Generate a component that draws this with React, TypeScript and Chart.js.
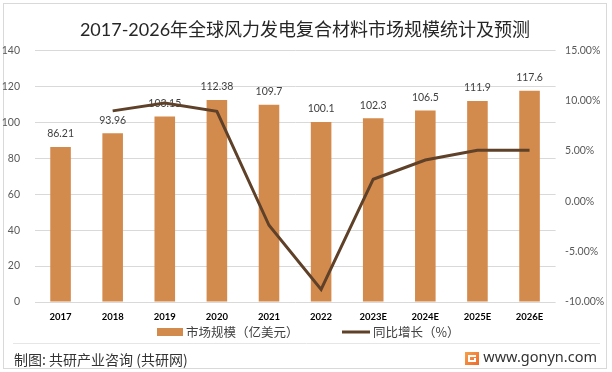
import React, { useEffect, useRef } from 'react';
import { Chart, registerables } from 'chart.js';

Chart.register(...registerables);

const categories = ['2017', '2018', '2019', '2020', '2021', '2022', '2023E', '2024E', '2025E', '2026E'];
const marketSize = [86.21, 93.96, 103.15, 112.38, 109.7, 100.1, 102.3, 106.5, 111.9, 117.6];
const growthPct = [null, 8.99, 9.78, 8.95, -2.38, -8.75, 2.2, 4.11, 5.07, 5.09];
const leftTicks = { min: 0, max: 140, step: 20 };
const rightTicks = { min: -10, max: 15, step: 5 };

const TITLE = '2017-2026年全球风力发电复合材料市场规模统计及预测';
const BAR_LABEL = '市场规模（亿美元）';
const LINE_LABEL = '同比增长（%）';
const FOOT_LEFT = '制图: 共研产业咨询 (共研网)';
const FOOT_RIGHT = 'www.gonyn.com';

const BAR = '#D38B4D';
const LINE = '#5E4128';
const FONT = "Lato, 'Noto Sans CJK SC', sans-serif";
const CJK = "'Noto Sans CJK SC', sans-serif";

const decor = {
  id: 'decor',
  beforeDraw(chart: any) {
    const { ctx, width, height } = chart;
    ctx.save();
    ctx.fillStyle = '#ffffff';
    ctx.fillRect(0, 0, width, height);
    ctx.strokeStyle = '#d9d9d9';
    ctx.lineWidth = 1;
    ctx.strokeRect(3.5, 3.5, 603, 365);
    ctx.restore();
  },
  afterDatasetDraw(chart: any, args: any) {
    if (args.index !== 1) return;
    const { ctx } = chart;
    const meta = args.meta;
    ctx.save();
    ctx.font = `10.5px ${FONT}`;
    ctx.fillStyle = '#404040';
    ctx.textAlign = 'center';
    ctx.textBaseline = 'middle';
    meta.data.forEach((el: any, i: number) => {
      ctx.fillText(String(marketSize[i]), el.x, el.y - 13);
    });
    ctx.restore();
  },
  afterDraw(chart: any) {
    const { ctx } = chart;
    ctx.save();
    // title
    ctx.font = `18px ${FONT}`;
    ctx.fillStyle = '#262626';
    ctx.textAlign = 'center';
    ctx.textBaseline = 'middle';
    ctx.fillText(TITLE, 305, 30);
    // legend
    ctx.fillStyle = BAR;
    ctx.fillRect(157, 328, 26, 8);
    ctx.font = `12.5px ${CJK}`;
    ctx.fillStyle = '#404040';
    ctx.textAlign = 'left';
    ctx.fillText(BAR_LABEL, 186, 332);
    ctx.strokeStyle = LINE;
    ctx.lineWidth = 3;
    ctx.beginPath();
    ctx.moveTo(342, 332);
    ctx.lineTo(370, 332);
    ctx.stroke();
    ctx.fillText(LINE_LABEL, 373, 332);
    // footer separator
    ctx.strokeStyle = '#e6e6e6';
    ctx.lineWidth = 1;
    ctx.beginPath();
    ctx.moveTo(13, 343.5);
    ctx.lineTo(600, 343.5);
    ctx.stroke();
    ctx.font = `14px ${CJK}`;
    ctx.fillStyle = '#333333';
    ctx.fillText(FOOT_LEFT, 14, 360);
    // icon
    const g = ctx.createLinearGradient(465, 352, 479, 365);
    g.addColorStop(0, '#F7A04B');
    g.addColorStop(1, '#EE6A2C');
    ctx.fillStyle = g;
    ctx.fillRect(465, 352, 14, 13);
    ctx.fillStyle = '#ffffff';
    ctx.fillRect(468, 355, 8, 2);
    ctx.fillRect(468, 355, 2, 7);
    ctx.fillRect(468, 360, 8, 2);
    ctx.fillRect(474, 358, 2, 4);
    ctx.font = "14.5px 'Noto Sans', sans-serif";
    ctx.fillStyle = '#333333';
    ctx.textAlign = 'right';
    ctx.fillText(FOOT_RIGHT, 597, 358);
    ctx.restore();
  },
};

export default function App() {
  const ref = useRef<HTMLCanvasElement>(null);
  useEffect(() => {
    const canvas = ref.current!;
    const chart = new Chart(canvas, {
      type: 'bar',
      data: {
        labels: categories,
        datasets: [
          {
            type: 'line',
            label: LINE_LABEL,
            data: growthPct as any,
            yAxisID: 'y1',
            borderColor: LINE,
            backgroundColor: LINE,
            borderWidth: 3,
            pointRadius: 0,
            tension: 0,
            order: 0,
          } as any,
          {
            type: 'bar',
            label: BAR_LABEL,
            data: marketSize,
            yAxisID: 'y',
            backgroundColor: BAR,
            barPercentage: 0.395,
            categoryPercentage: 1,
            order: 1,
          } as any,
        ],
      },
      options: {
        responsive: false,
        animation: false,
        layout: { padding: { top: 50.4, left: 0, right: 0, bottom: 40 } },
        plugins: { legend: { display: false }, title: { display: false }, tooltip: { enabled: false } },
        scales: {
          x: {
            grid: { display: false },
            border: { display: false },
            ticks: { font: { family: FONT, size: 9.5, weight: 'bold' }, color: '#000000', padding: 1, maxRotation: 0, autoSkip: false },
            afterFit: (s: any) => { s.height = 30; },
          },
          y: {
            position: 'left',
            min: leftTicks.min,
            max: leftTicks.max,
            ticks: { stepSize: leftTicks.step, padding: 14.5, font: { family: FONT, size: 10.5 }, color: '#595959' },
            grid: { color: '#d9d9d9', drawTicks: false },
            border: { display: false },
            afterFit: (s: any) => { s.width = 34.5; },
          },
          y1: {
            position: 'right',
            min: rightTicks.min,
            max: rightTicks.max,
            ticks: {
              stepSize: rightTicks.step,
              padding: 9.5,
              font: { family: FONT, size: 10.5 },
              color: '#595959',
              callback: (v: any) => Number(v).toFixed(2) + '%',
            },
            grid: { display: false, drawTicks: false },
            border: { display: false },
            afterFit: (s: any) => { s.width = 56.4; },
          },
        },
      } as any,
      plugins: [decor],
    });
    return () => chart.destroy();
  }, []);
  return (
    <div style={{ position: 'absolute', left: 0, top: 0, width: 612, height: 372, background: '#fff' }}>
      <canvas ref={ref} width={612} height={372} style={{ display: 'block' }} />
    </div>
  );
}
